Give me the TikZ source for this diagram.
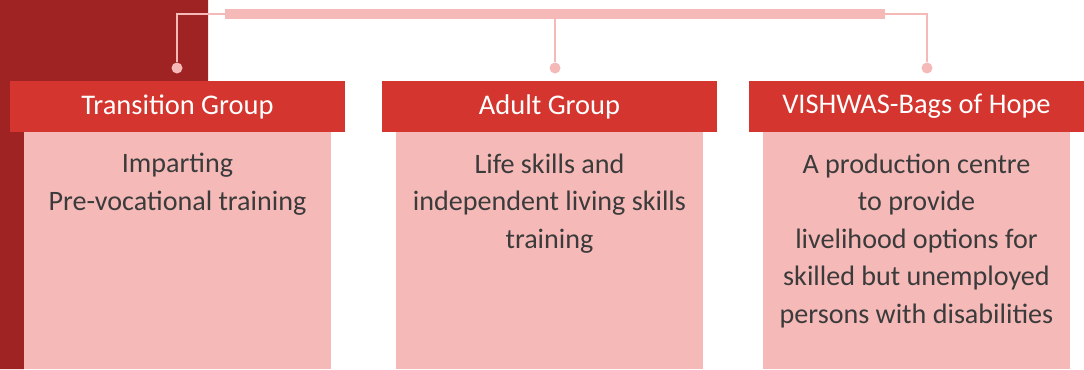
\documentclass[tikz,border=0pt]{standalone}
\usepackage{fontspec}
\setmainfont{Carlito}
\usepackage{xcolor}
\usepackage{tikz}
\usetikzlibrary{positioning}

\definecolor{darkred}{HTML}{9E2322}
\definecolor{titlered}{HTML}{D4352E}
\definecolor{softpink}{HTML}{F5B9B8}
\definecolor{bodygray}{HTML}{3B3B3B}

\begin{document}
\begin{tikzpicture}[
    x=0.02cm,y=-0.02cm,
    title/.style={fill=titlered,minimum width=6.7cm,minimum height=1.02cm,inner sep=0pt,text=white,font=\fontsize{16.2}{19}\selectfont},
    panel/.style={fill=softpink,minimum width=6.14cm,minimum height=4.74cm,inner sep=0pt},
    bodytext/.style={align=center,text=bodygray,font=\fontsize{16}{21.4}\selectfont},
    dot/.style={circle,fill=softpink,minimum size=0.22cm,inner sep=0pt},
    link/.style={softpink,line width=1pt},
]
    \useasboundingbox (0,0) rectangle (1084,369);
    \fill[darkred] (0,0) -- (208,0) -- (208,81) -- (24,81) -- (24,369) -- (0,369) -- cycle;

    \node[fill=softpink,minimum width=13.2cm,minimum height=0.2cm,inner sep=0pt] (bar) at (555,14) {};
    \node[dot] (dota) at (177,68) {};
    \node[dot] (dotb) at (555,68) {};
    \node[dot] (dotc) at (927,68) {};
    \draw[link] (bar.west) -| (dota);
    \draw[link] (bar.south) -- (dotb);
    \draw[link] (bar.east) -| (dotc);

    \node[panel] (pana) at (177.5,250.5) {};
    \node[panel] (panb) at (549.5,250.5) {};
    \node[panel] (panc) at (916.5,250.5) {};

    \node[title] (tita) at (177.5,106.5) {Transition Group};
    \node[title] (titb) at (549.5,106.5) {Adult Group};
    \node[title] (titc) at (916.5,106.5) {VISHWAS-Bags of Hope};

    \node[bodytext,below=0.3cm of tita] (txta) {Imparting\\Pre-vocational training};
    \node[bodytext,below=0.3cm of titb] (txtb) {Life skills and\\independent living skills\\training};
    \node[bodytext,below=0.3cm of titc] (txtc) {A production centre\\to provide\\livelihood options for\\skilled but unemployed\\persons with disabilities};
\end{tikzpicture}
\end{document}
